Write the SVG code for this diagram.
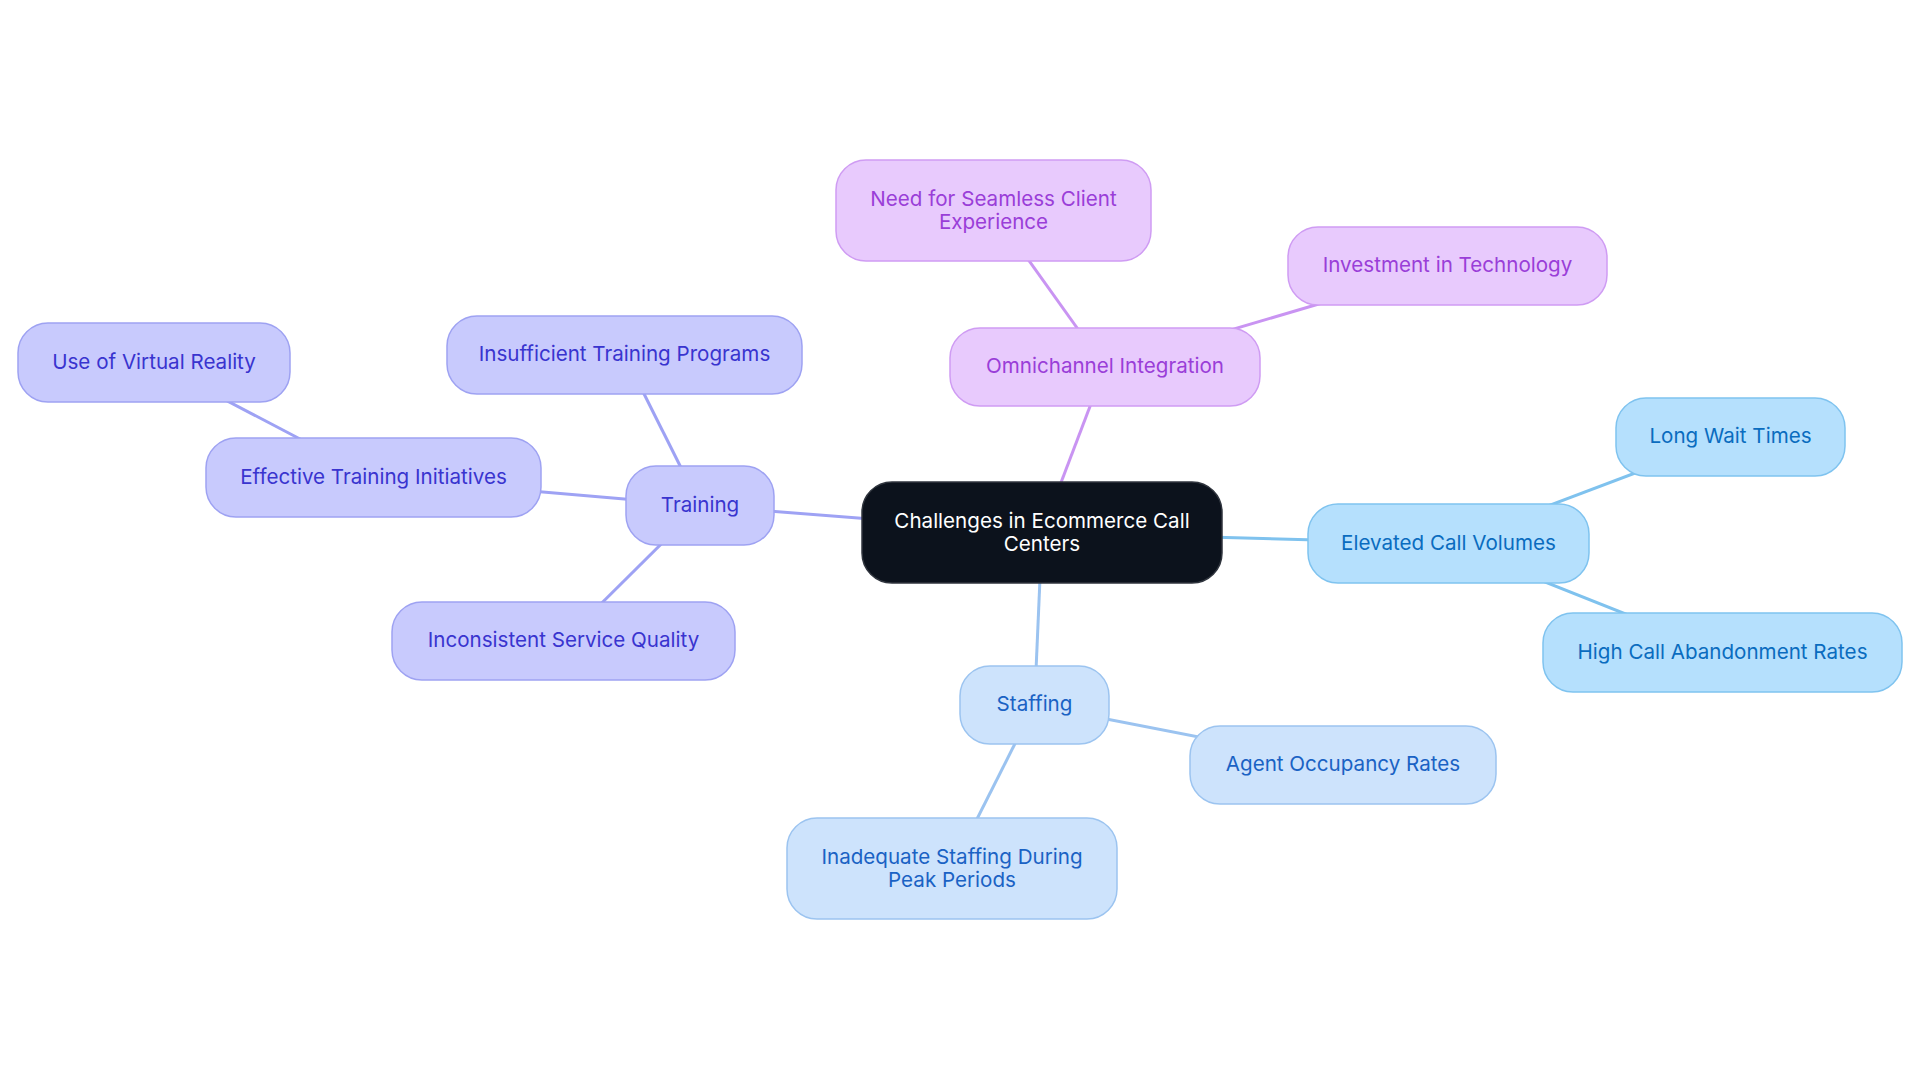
<svg xmlns="http://www.w3.org/2000/svg" width="1920" height="1083" viewBox="0 0 1920 1083">
<style>
text{font-family:Inter,"Noto Sans","Liberation Sans",sans-serif;font-size:20.6px;text-anchor:middle}
.n rect{stroke-width:1.5}
.root rect{fill:#0c121c;stroke:#30353e}
.root text{fill:#ffffff}
.pu rect{fill:#e8cafd;stroke:#cf9cf3}
.pu text{fill:#9a3ed8}
.in rect{fill:#c8cafd;stroke:#9ea2f2}
.in text{fill:#3934cf}
.sk rect{fill:#b5e0fd;stroke:#7fc3ef}
.sk text{fill:#0a6cbf}
.bl rect{fill:#cde3fc;stroke:#9cc4f0}
.bl text{fill:#1a62c4}
#connectors line{stroke-width:3;fill:none}
.cpu{stroke:#c994f2}.cin{stroke:#9ea2f4}.csk{stroke:#7fc2ee}.cbl{stroke:#9bc3f0}
</style>
<rect width="1920" height="1083" fill="#ffffff"/>
<g id="connectors">
<line class="cpu" x1="1042" y1="532.5" x2="1105" y2="367"/>
<line class="cpu" x1="1105" y1="367" x2="993.5" y2="211"/>
<line class="cpu" x1="1105" y1="367" x2="1447.5" y2="266"/>
<line class="csk" x1="1042" y1="532.5" x2="1448.5" y2="543.5"/>
<line class="csk" x1="1448.5" y1="543.5" x2="1730.5" y2="437"/>
<line class="csk" x1="1448.5" y1="543.5" x2="1722.5" y2="652.5"/>
<line class="cbl" x1="1042" y1="532.5" x2="1034.5" y2="705"/>
<line class="cbl" x1="1034.5" y1="705" x2="1343" y2="765"/>
<line class="cbl" x1="1034.5" y1="705" x2="952" y2="868.5"/>
<line class="cin" x1="1042" y1="532.5" x2="700" y2="505.5"/>
<line class="cin" x1="700" y1="505.5" x2="624.5" y2="355"/>
<line class="cin" x1="700" y1="505.5" x2="373.5" y2="477.5"/>
<line class="cin" x1="373.5" y1="477.5" x2="154" y2="362.5"/>
<line class="cin" x1="700" y1="505.5" x2="563.5" y2="641"/>
</g>
<g id="root" class="n root"><rect x="862" y="482" width="360" height="101" rx="30"/><text x="1042" y="527.5">Challenges in Ecommerce Call</text><text x="1042" y="550.5">Centers</text></g>
<g id="omnichannel" class="n pu"><rect x="950" y="328" width="310" height="78" rx="30"/><text x="1105" y="373">Omnichannel Integration</text></g>
<g id="seamless" class="n pu"><rect x="836" y="160" width="315" height="101" rx="30"/><text x="993.5" y="206">Need for Seamless Client</text><text x="993.5" y="229">Experience</text></g>
<g id="investment" class="n pu"><rect x="1288" y="227" width="319" height="78" rx="30"/><text x="1447.5" y="272">Investment in Technology</text></g>
<g id="elevated" class="n sk"><rect x="1308" y="504" width="281" height="79" rx="30"/><text x="1448.5" y="549.5">Elevated Call Volumes</text></g>
<g id="longwait" class="n sk"><rect x="1616" y="398" width="229" height="78" rx="30"/><text x="1730.5" y="443">Long Wait Times</text></g>
<g id="abandonment" class="n sk"><rect x="1543" y="613" width="359" height="79" rx="30"/><text x="1722.5" y="658.5">High Call Abandonment Rates</text></g>
<g id="staffing" class="n bl"><rect x="960" y="666" width="149" height="78" rx="30"/><text x="1034.5" y="711">Staffing</text></g>
<g id="occupancy" class="n bl"><rect x="1190" y="726" width="306" height="78" rx="30"/><text x="1343" y="771">Agent Occupancy Rates</text></g>
<g id="inadequate" class="n bl"><rect x="787" y="818" width="330" height="101" rx="30"/><text x="952" y="863.5">Inadequate Staffing During</text><text x="952" y="886.5">Peak Periods</text></g>
<g id="training" class="n in"><rect x="626" y="466" width="148" height="79" rx="30"/><text x="700" y="511.5">Training</text></g>
<g id="insufficient" class="n in"><rect x="447" y="316" width="355" height="78" rx="30"/><text x="624.5" y="361">Insufficient Training Programs</text></g>
<g id="effective" class="n in"><rect x="206" y="438" width="335" height="79" rx="30"/><text x="373.5" y="483.5">Effective Training Initiatives</text></g>
<g id="vr" class="n in"><rect x="18" y="323" width="272" height="79" rx="30"/><text x="154" y="368.5">Use of Virtual Reality</text></g>
<g id="inconsistent" class="n in"><rect x="392" y="602" width="343" height="78" rx="30"/><text x="563.5" y="647">Inconsistent Service Quality</text></g>
</svg>
